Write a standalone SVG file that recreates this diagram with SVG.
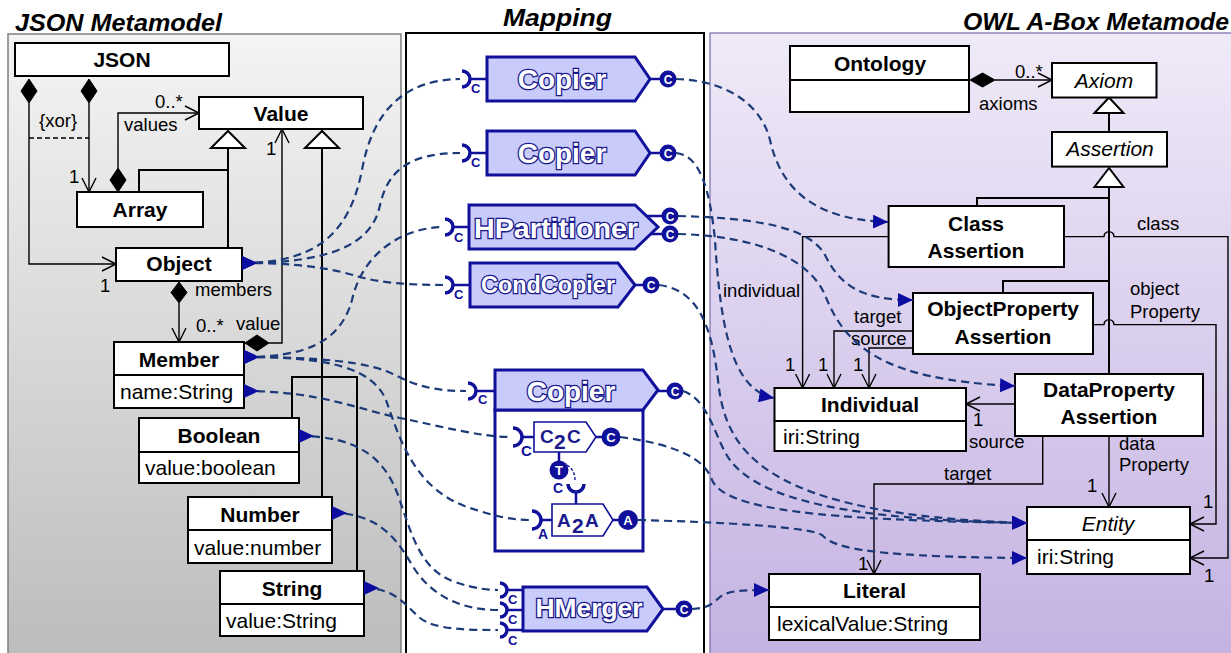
<svg xmlns="http://www.w3.org/2000/svg" width="1231" height="653" viewBox="0 0 1231 653">
<defs>
  <linearGradient id="gLeft" x1="0" y1="0" x2="0" y2="1">
    <stop offset="0" stop-color="#f4f4f4"/>
    <stop offset="1" stop-color="#bcbcbc"/>
  </linearGradient>
  <linearGradient id="gRight" x1="0" y1="0" x2="0" y2="1">
    <stop offset="0" stop-color="#efeaf8"/>
    <stop offset="1" stop-color="#c4b2e2"/>
  </linearGradient>
  <!-- filled blue head / tail of the mapping links -->
  <marker id="head" markerUnits="userSpaceOnUse" markerWidth="16" markerHeight="14" refX="15" refY="7" orient="auto">
    <path d="M0,0 L15,7 L0,14 Z" fill="#0c0ca0"/>
  </marker>
  <marker id="tail" markerUnits="userSpaceOnUse" markerWidth="16" markerHeight="14" refX="0" refY="7" orient="auto">
    <path d="M0,0 L15,7 L0,14 Z" fill="#0c0ca0"/>
  </marker>
  <!-- UML navigable association end -->
  <marker id="open" markerUnits="userSpaceOnUse" markerWidth="16" markerHeight="16" refX="14" refY="7" orient="auto" overflow="visible">
    <path d="M0,0 L14,7 L0,14" fill="none" stroke="#000" stroke-width="1.4"/>
  </marker>
  <style>
    .box { fill:#fff; stroke:#000; stroke-width:2; }
    .nm { font-family:"Liberation Sans", Arial, sans-serif; font-weight:bold; font-size:21px; text-anchor:middle; fill:#000; }
    .it { font-family:"Liberation Sans", Arial, sans-serif; font-style:italic; font-size:21px; text-anchor:middle; fill:#000; }
    .at { font-family:"Liberation Sans", Arial, sans-serif; font-size:21px; fill:#000; }
    .lb { font-family:"Liberation Sans", Arial, sans-serif; font-size:18.5px; fill:#000; }
    .title { font-family:"Liberation Sans", Arial, sans-serif; font-weight:bold; font-style:italic; font-size:23px; fill:#000; }
    .asc { fill:none; stroke:#000; stroke-width:1.4; }
    .gen { fill:none; stroke:#000; stroke-width:2; }
    .tri { fill:#fff; stroke:#000; stroke-width:2; }
    .dia { fill:#000; stroke:#000; stroke-width:1; }
    .map { fill:none; stroke:#1c3a78; stroke-width:2.2; stroke-dasharray:8 5; }
    .comp { fill:#c9cbfb; stroke:#10109a; stroke-width:3; }
    .inner { fill:#fff; stroke:#10109a; stroke-width:1.6; }
    .wire { stroke:#10109a; stroke-width:2.5; }
    .port { fill:none; stroke:#10109a; stroke-width:3.5; }
    .pin { fill:#10109a; }
    .pt { font-family:"Liberation Sans", Arial, sans-serif; font-weight:bold; font-size:12px; fill:#fff; text-anchor:middle; }
    .pl { font-family:"Liberation Sans", Arial, sans-serif; font-weight:bold; font-size:13px; fill:#10109a; }
    .ctitle { font-family:"Liberation Sans", Arial, sans-serif; font-weight:bold; font-size:28px; fill:#fff; stroke:#1a1a8c; stroke-width:2.6; paint-order:stroke; text-anchor:middle; }
    .itx { font-family:"Liberation Sans", Arial, sans-serif; font-weight:bold; font-size:19px; fill:#1a1a8c; }
  </style>
</defs>

<!-- panels -->
<g id="panels">
  <rect x="8" y="34" width="393" height="625" fill="url(#gLeft)" stroke="#7f7f7f" stroke-width="1.5"/>
  <rect x="406" y="33" width="298" height="626" fill="#fff" stroke="#000" stroke-width="2"/>
  <rect x="710" y="33" width="530" height="626" fill="url(#gRight)" stroke="#7a68a8" stroke-width="1.2"/>
  <text class="title" x="15" y="31" textLength="207" lengthAdjust="spacingAndGlyphs">JSON Metamodel</text>
  <text class="title" x="503" y="26" textLength="109" lengthAdjust="spacingAndGlyphs">Mapping</text>
  <text class="title" x="963" y="30" textLength="266" lengthAdjust="spacingAndGlyphs">OWL A-Box Metamode</text>
</g>

<!-- JSON metamodel: relations -->
<g id="json-relations">
  <polygon class="tri" points="228,131 211,148 245,148"/>
  <path class="gen" d="M228,148 V248 M228,170 H139 V192"/>
  <polygon class="tri" points="322,131 305,148 339,148"/>
  <path class="gen" d="M322,148 V497 M292,418 V377 H357 V571"/>
  <polygon class="dia" points="29,79 37,91 29,103 21,91"/>
  <path class="asc" d="M29,103 V264 H116" marker-end="url(#open)"/>
  <polygon class="dia" points="89,79 97,91 89,103 81,91"/>
  <path class="asc" d="M89,103 V192" marker-end="url(#open)"/>
  <path class="asc" d="M29,138 H89" stroke-dasharray="5 3"/>
  <polygon class="dia" points="118,168 126,180 118,192 110,180"/>
  <path class="asc" d="M118,168 V113 H199" marker-end="url(#open)"/>
  <polygon class="dia" points="245,343 257,335 269,343 257,351"/>
  <path class="asc" d="M269,343 H282 V129" marker-end="url(#open)"/>
  <polygon class="dia" points="179,282 187,292.5 179,303 171,292.5"/>
  <path class="asc" d="M179,303 V342" marker-end="url(#open)"/>
  <text class="lb" x="39" y="127">{xor}</text>
  <text class="lb" x="69" y="183">1</text>
  <text class="lb" x="100" y="292">1</text>
  <text class="lb" x="155" y="108">0..*</text>
  <text class="lb" x="124" y="131">values</text>
  <text class="lb" x="266" y="155">1</text>
  <text class="lb" x="195" y="296">members</text>
  <text class="lb" x="196" y="332">0..*</text>
  <text class="lb" x="236" y="330">value</text>
</g>

<!-- JSON metamodel: classes -->
<g id="json"><rect class="box" x="15" y="43" width="214" height="33"/><text class="nm" x="122" y="67">JSON</text></g>
<g id="value"><rect class="box" x="199" y="97" width="164" height="32"/><text class="nm" x="281" y="121">Value</text></g>
<g id="array"><rect class="box" x="77" y="192" width="126" height="35"/><text class="nm" x="140" y="217">Array</text></g>
<g id="object"><rect class="box" x="116" y="248" width="126" height="33"/><text class="nm" x="179" y="271">Object</text></g>
<g id="member">
  <rect class="box" x="114" y="342" width="130" height="33"/><rect class="box" x="114" y="375" width="130" height="33"/>
  <text class="nm" x="179" y="367">Member</text><text class="at" x="120" y="399">name:String</text>
</g>
<g id="boolean">
  <rect class="box" x="139" y="418" width="160" height="34"/><rect class="box" x="139" y="452" width="160" height="31"/>
  <text class="nm" x="219" y="443">Boolean</text><text class="at" x="145" y="475">value:boolean</text>
</g>
<g id="number">
  <rect class="box" x="188" y="497" width="144" height="33"/><rect class="box" x="188" y="530" width="144" height="33"/>
  <text class="nm" x="260" y="522">Number</text><text class="at" x="194" y="555">value:number</text>
</g>
<g id="string">
  <rect class="box" x="220" y="571" width="144" height="33"/><rect class="box" x="220" y="604" width="144" height="32"/>
  <text class="nm" x="292" y="596">String</text><text class="at" x="226" y="628">value:String</text>
</g>

<!-- OWL A-Box metamodel: relations -->
<g id="owl-relations">
  <polygon class="tri" points="1109,97.5 1094.5,113 1123.5,113"/>
  <path class="gen" d="M1109,113 V132"/>
  <polygon class="tri" points="1109,168 1094.5,187 1123.5,187"/>
  <path class="gen" d="M1109,187 V374 M1109,198 H977 V206 M1109,281 H1003 V293"/>
  <polygon class="dia" points="970,80 982.5,73 995,80 982.5,87"/>
  <path class="asc" d="M995,80 H1052" marker-end="url(#open)"/>
  <path class="asc" d="M888.6,236.6 H802.6 V388" marker-end="url(#open)"/>
  <path class="asc" d="M1064,236.6 H1104 A5,5 0 0 1 1114,236.6 H1228 V558 H1190" marker-end="url(#open)"/>
  <path class="asc" d="M913,331 H834 V388" marker-end="url(#open)"/>
  <path class="asc" d="M913,348 H869 V388" marker-end="url(#open)"/>
  <path class="asc" d="M1093,324.6 H1104 A5,5 0 0 1 1114,324.6 H1216 V524 H1190" marker-end="url(#open)"/>
  <path class="asc" d="M1015,404 H966" marker-end="url(#open)"/>
  <path class="asc" d="M1042.7,436 V484 H874 V574" marker-end="url(#open)"/>
  <path class="asc" d="M1109,436 V507" marker-end="url(#open)"/>
  <text class="lb" x="1015" y="78">0..*</text>
  <text class="lb" x="979" y="110">axioms</text>
  <text class="lb" x="1137" y="230">class</text>
  <text class="lb" x="723" y="297">individual</text>
  <text class="lb" x="1130" y="295">object</text>
  <text class="lb" x="1130" y="318">Property</text>
  <text class="lb" x="854" y="323">target</text>
  <text class="lb" x="851" y="345">source</text>
  <text class="lb" x="785" y="371">1</text>
  <text class="lb" x="818" y="371">1</text>
  <text class="lb" x="853" y="371">1</text>
  <text class="lb" x="973" y="426">1</text>
  <text class="lb" x="969" y="448">source</text>
  <text class="lb" x="944" y="480">target</text>
  <text class="lb" x="1119" y="450">data</text>
  <text class="lb" x="1119" y="471">Property</text>
  <text class="lb" x="1087" y="492">1</text>
  <text class="lb" x="1203" y="508">1</text>
  <text class="lb" x="1204" y="582">1</text>
  <text class="lb" x="858" y="570">1</text>
</g>

<!-- OWL A-Box metamodel: classes -->
<g id="ontology">
  <rect class="box" x="790" y="46" width="179" height="34"/><rect class="box" x="790" y="80" width="179" height="32"/>
  <text class="nm" x="880" y="71">Ontology</text>
</g>
<g id="axiom"><rect class="box" x="1052" y="63" width="104.5" height="34.5"/><text class="it" x="1104" y="88">Axiom</text></g>
<g id="assertion"><rect class="box" x="1052" y="132" width="115" height="34.6"/><text class="it" x="1110" y="156">Assertion</text></g>
<g id="classAssertion">
  <rect class="box" x="888.6" y="206" width="175.4" height="61"/>
  <text class="nm" x="976" y="231">Class</text><text class="nm" x="976" y="258">Assertion</text>
</g>
<g id="objectPropertyAssertion">
  <rect class="box" x="913" y="293" width="180" height="61"/>
  <text class="nm" x="1003" y="316">ObjectProperty</text><text class="nm" x="1003" y="344">Assertion</text>
</g>
<g id="dataPropertyAssertion">
  <rect class="box" x="1015" y="374" width="188" height="62"/>
  <text class="nm" x="1109" y="397">DataProperty</text><text class="nm" x="1109" y="424">Assertion</text>
</g>
<g id="individual">
  <rect class="box" x="774.5" y="388" width="191.5" height="33"/><rect class="box" x="774.5" y="421" width="191.5" height="30"/>
  <text class="nm" x="870" y="412">Individual</text><text class="at" x="783" y="444">iri:String</text>
</g>
<g id="entity">
  <rect class="box" x="1027" y="507" width="163" height="33"/><rect class="box" x="1027" y="540" width="163" height="34"/>
  <text class="it" x="1108" y="531">Entity</text><text class="at" x="1037" y="564">iri:String</text>
</g>
<g id="literal">
  <rect class="box" x="769" y="574" width="211" height="33"/><rect class="box" x="769" y="607" width="211" height="33"/>
  <text class="nm" x="874.5" y="598">Literal</text><text class="at" x="777" y="631">lexicalValue:String</text>
</g>

<!-- mapping components -->
<g id="copier1">
  <path class="comp" d="M487,57 H635 L650,79 L635,101 H487 Z"/>
  <path class="port" d="M462,71 A8,8 0 0 1 462,87"/>
  <line class="wire" x1="470" y1="79" x2="487" y2="79"/>
  <text class="pl" x="471" y="93">C</text>
  <line class="wire" x1="650" y1="79" x2="661" y2="79"/>
  <circle class="pin" cx="668" cy="79" r="8.5"/><text class="pt" x="668" y="83.5">C</text>
  <text class="ctitle" x="562" y="89">Copier</text>
</g>
<g id="copier2">
  <path class="comp" d="M487,131 H635 L650,153 L635,175 H487 Z"/>
  <path class="port" d="M462,145 A8,8 0 0 1 462,161"/>
  <line class="wire" x1="470" y1="153" x2="487" y2="153"/>
  <text class="pl" x="471" y="167">C</text>
  <line class="wire" x1="650" y1="153" x2="661" y2="153"/>
  <circle class="pin" cx="668" cy="153" r="8.5"/><text class="pt" x="668" y="157.5">C</text>
  <text class="ctitle" x="562" y="163">Copier</text>
</g>
<g id="hpartitioner">
  <path class="comp" d="M469,205 H635 L658,227 L635,249 H469 Z"/>
  <path class="port" d="M445,219 A8,8 0 0 1 445,235"/>
  <line class="wire" x1="453" y1="227" x2="469" y2="227"/>
  <text class="pl" x="454" y="242">C</text>
  <line class="wire" x1="646" y1="216" x2="662" y2="216"/>
  <line class="wire" x1="650" y1="234" x2="662" y2="234"/>
  <circle class="pin" cx="670" cy="216" r="8.5"/><text class="pt" x="670" y="220.5">C</text>
  <circle class="pin" cx="670" cy="234" r="8.5"/><text class="pt" x="670" y="238.5">C</text>
  <text class="ctitle" x="556" y="238" textLength="164" lengthAdjust="spacingAndGlyphs">HPartitioner</text>
</g>
<g id="condcopier">
  <path class="comp" d="M470,263 H618 L635,285 L618,307 H470 Z"/>
  <path class="port" d="M445,277 A8,8 0 0 1 445,293"/>
  <line class="wire" x1="453" y1="285" x2="470" y2="285"/>
  <text class="pl" x="454" y="299">C</text>
  <line class="wire" x1="635" y1="285" x2="643" y2="285"/>
  <circle class="pin" cx="651" cy="285" r="8.5"/><text class="pt" x="651" y="289.5">C</text>
  <text class="ctitle" x="548" y="293" style="font-size:24px" textLength="134" lengthAdjust="spacingAndGlyphs">CondCopier</text>
</g>
<g id="copier3">
  <rect x="495" y="410" width="148" height="141" fill="#fff" stroke="#10109a" stroke-width="3"/>
  <path class="comp" d="M495,370 H643 L658,390 L643,410 H495 Z"/>
  <path class="port" d="M468,383 A8,8 0 0 1 468,399"/>
  <line class="wire" x1="476" y1="391" x2="495" y2="391"/>
  <text class="pl" x="478" y="404">C</text>
  <line class="wire" x1="658" y1="391" x2="667" y2="391"/>
  <circle class="pin" cx="675" cy="391" r="8.5"/><text class="pt" x="675" y="395.5">C</text>
  <text class="ctitle" x="571" y="401">Copier</text>
  <g id="c2c">
    <path class="inner" d="M534,422 H586 L596,437 L586,452 H534 Z"/>
    <path class="port" d="M513,428 A9,9 0 0 1 513,446"/>
    <line class="wire" x1="521" y1="437" x2="534" y2="437"/>
    <text class="pl" x="521" y="456" style="font-size:15px">C</text>
    <line class="wire" x1="596" y1="437" x2="602" y2="437"/>
    <circle class="pin" cx="611" cy="437" r="9.5"/><text class="pt" x="611" y="442" style="font-size:13px">C</text>
    <text class="itx"><tspan x="540" y="443">C</tspan><tspan x="554" y="449" style="font-size:21px">2</tspan><tspan x="567" y="443">C</tspan></text>
    <line class="wire" x1="559" y1="452" x2="559" y2="461" stroke-width="1.6"/>
    <circle class="pin" cx="559" cy="470" r="9.5"/><text class="pt" x="559" y="475" style="font-size:13px">T</text>
    <path d="M567,465 Q575,470 575,480" fill="none" stroke="#10109a" stroke-width="1.4" stroke-dasharray="3 2"/>
  </g>
  <g id="a2a">
    <path class="port" d="M568,484 A8,8 0 0 0 584,484" stroke-width="4"/>
    <text class="pl" x="553" y="493" style="font-size:14px">C</text>
    <line class="wire" x1="576" y1="492" x2="576" y2="504" stroke-width="1.6"/>
    <path class="inner" d="M552,504 H603 L613,520 L603,536 H552 Z"/>
    <path class="port" d="M532,511 A9,9 0 0 1 532,529"/>
    <line class="wire" x1="540" y1="520" x2="552" y2="520"/>
    <text class="pl" x="538" y="539" style="font-size:14px">A</text>
    <line class="wire" x1="613" y1="520" x2="619" y2="520"/>
    <circle class="pin" cx="628" cy="520" r="10"/><text class="pt" x="628" y="525" style="font-size:13px">A</text>
    <text class="itx"><tspan x="557" y="527">A</tspan><tspan x="572" y="533" style="font-size:21px">2</tspan><tspan x="585" y="527">A</tspan></text>
  </g>
</g>
<g id="hmerger">
  <path class="comp" d="M523,587 H647 L663,609 L647,631 H523 Z"/>
  <path class="port" d="M500,583 A7,7 0 0 1 500,597"/>
  <path class="port" d="M500,603 A7,7 0 0 1 500,617"/>
  <path class="port" d="M500,623 A7,7 0 0 1 500,637"/>
  <line class="wire" x1="507" y1="590" x2="523" y2="590"/>
  <line class="wire" x1="507" y1="610" x2="523" y2="610"/>
  <line class="wire" x1="507" y1="630" x2="523" y2="630"/>
  <text class="pl" x="508" y="604">C</text>
  <text class="pl" x="508" y="624">C</text>
  <text class="pl" x="508" y="645">C</text>
  <line class="wire" x1="663" y1="609" x2="676" y2="609"/>
  <circle class="pin" cx="684" cy="609" r="8.5"/><text class="pt" x="684" y="613.5">C</text>
  <text class="ctitle" x="589" y="617" style="font-size:26px" textLength="107" lengthAdjust="spacingAndGlyphs">HMerger</text>
</g>

<!-- mapping links -->
<g id="links">
  <path class="map" marker-start="url(#tail)" d="M242,263 C320,263 350,230 362,170 C372,115 400,80 460,79"/>
  <path class="map" marker-start="url(#tail)" d="M242,263 C330,263 372,245 380,205 C388,170 410,153 460,153"/>
  <path class="map" marker-start="url(#tail)" d="M242,263 C300,263 330,268 360,277 C385,284 420,285 443,285"/>
  <path class="map" marker-start="url(#tail)" d="M244,357 C300,357 340,345 352,300 C362,255 400,228 443,227"/>
  <path class="map" marker-start="url(#tail)" d="M244,357 C320,357 370,362 395,375 C420,388 440,391 466,391"/>
  <path class="map" marker-start="url(#tail)" d="M244,357 C330,357 372,368 386,400 C400,440 415,490 470,508 C495,516 510,520 530,520"/>
  <path class="map" marker-start="url(#tail)" d="M244,391 C320,391 360,410 400,418 C440,426 480,437 511,437"/>
  <path class="map" marker-start="url(#tail)" d="M299,436 C360,436 385,460 398,495 C412,535 420,570 455,582 C475,589 490,590 498,590"/>
  <path class="map" marker-start="url(#tail)" d="M332,513 C375,513 395,535 412,565 C430,595 460,610 498,610"/>
  <path class="map" marker-start="url(#tail)" d="M364,588 C395,588 405,605 420,618 C435,630 470,630 498,630"/>

  <path class="map" marker-end="url(#head)" d="M676,79 C720,80 760,100 770,140 C780,185 810,220 888,222"/>
  <path class="map" marker-end="url(#head)" d="M676,153 C700,155 710,190 715,240 C720,320 730,390 774,398"/>
  <path class="map" marker-end="url(#head)" d="M678,216 C760,218 810,228 825,255 C840,285 860,300 913,300"/>
  <path class="map" marker-end="url(#head)" d="M678,234 C760,236 810,260 825,295 C845,345 880,380 1015,386"/>
  <path class="map" marker-end="url(#head)" d="M659,285 C700,290 712,330 718,380 C725,450 760,515 1027,523"/>
  <path class="map" marker-end="url(#head)" d="M683,391 C710,400 715,440 730,460 C760,500 850,520 1027,523"/>
  <path class="map" marker-end="url(#head)" d="M620,437 C680,445 705,460 712,480 C725,510 820,520 1027,523"/>
  <path class="map" marker-end="url(#head)" d="M638,520 C720,522 810,527 822,535 C832,545 850,557 1027,558"/>
  <path class="map" marker-end="url(#head)" d="M692,609 C715,608 715,598 725,594 C735,590 750,590 769,590"/>
</g>
</svg>
